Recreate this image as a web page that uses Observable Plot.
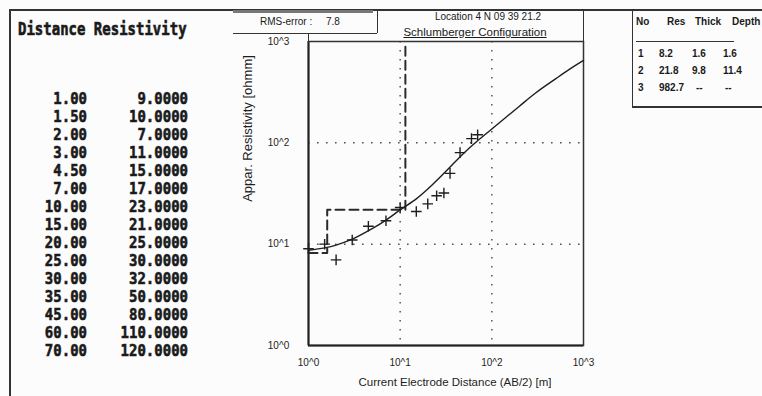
<!DOCTYPE html>
<html><head><meta charset="utf-8">
<script src="https://cdn.jsdelivr.net/npm/d3@7"></script>
<script src="https://cdn.jsdelivr.net/npm/@observablehq/plot@0.6"></script>
<style>
html,body{margin:0;padding:0;background:#fcfcfc;}
#wrap{position:relative;width:762px;height:396px;overflow:hidden;background:#fcfcfc;font-family:Arial,"Liberation Sans",sans-serif;color:#1a1a1a;}
#wrap svg{position:absolute;left:0;top:0;}
.abs{position:absolute;white-space:nowrap;line-height:12px;}
.mono{font-family:"DejaVu Sans Mono",monospace;font-weight:bold;font-size:14px;line-height:14px;-webkit-text-stroke:0.5px #1a1a1a;}
.ln{position:absolute;background:#333;}
</style></head><body><div id="wrap"></div>
<script>
// observed data (left table / plus markers)
const distance = [1, 1.5, 2, 3, 4.5, 7, 10, 15, 20, 25, 30, 35, 45, 60, 70];
const resistivity = [9, 10, 7, 11, 15, 17, 23, 21, 25, 30, 32, 50, 80, 110, 120];
// model curve
const curveAB = [1, 1.5, 2, 3, 5, 7, 10, 15, 20, 30, 50, 70, 100, 200, 300, 500, 700, 1000];
const curveRho = [8.7, 9.2, 9.8, 11.2, 14.3, 17.3, 21.8, 28, 35, 50, 80, 105, 137, 230, 310, 430, 530, 650];
// layer model
const layerNo = [1, 2, 3];
const layerRes = [8.2, 21.8, 982.7];
const layerThick = [1.6, 9.8, null];
const layerDepth = [1.6, 11.4, null];
// axes
const tickValues = [1, 10, 100, 1000];
const tickLabels = ["10^0", "10^1", "10^2", "10^3"];
const gridValues = [10, 100];
const xTitle = "Current Electrode Distance (AB/2) [m]";
const yTitle = "Appar. Resistivity [ohmm]";
const titleLines = ["Location 4 N 09 39 21.2", "Schlumberger Configuration"];
const rmsError = 7.8;
const tableHeader = ["No", "Res", "Thick", "Depth"];
const leftTitle = "Distance Resistivity";

const obs = distance.map((d, i) => ({x: d, y: resistivity[i]}));
const curve = curveAB.map((d, i) => ({x: d, y: curveRho[i]}));
const step = [];
let prevDepth = 1;
layerRes.forEach((r, i) => {
  step.push({x: prevDepth, y: r});
  if (layerDepth[i] != null) { step.push({x: layerDepth[i], y: r}); prevDepth = layerDepth[i]; }
});

const ink = "#1e1e1e";
const chart = Plot.plot({
  width: 762, height: 396,
  marginLeft: 308, marginRight: 179, marginTop: 41, marginBottom: 51,
  style: {background: "transparent", fontFamily: "Arial, 'Liberation Sans', sans-serif", color: ink, overflow: "visible"},
  x: {type: "log", domain: [1, 1000], axis: null},
  y: {type: "log", domain: [1, 1000], axis: null},
  marks: [
    Plot.ruleX(gridValues, {stroke: "#555", strokeWidth: 1.5, strokeDasharray: "1.6,7.4"}),
    Plot.ruleY(gridValues, {stroke: "#555", strokeWidth: 1.5, strokeDasharray: "1.6,7.4"}),
    Plot.frame({stroke: "#333", strokeWidth: 1.5}),
    Plot.ruleX([1], {stroke: "#222", strokeWidth: 2}),
    Plot.ruleY([1], {stroke: "#222", strokeWidth: 2}),
    Plot.line(step, {x: "x", y: "y", stroke: "#2a2a2a", strokeWidth: 2, strokeDasharray: "9,5"}),
    Plot.line(curve, {x: "x", y: "y", curve: "catmull-rom", stroke: ink, strokeWidth: 1.4}),
    Plot.dot(obs, {x: "x", y: "y", symbol: "plus", r: 3.5, stroke: ink, strokeWidth: 1.4}),
    Plot.text(tickValues, {x: d => d, text: (d, i) => tickLabels[i], frameAnchor: "bottom", textAnchor: "middle", lineAnchor: "middle", dy: 17, fontSize: 10, fill: ink}),
    Plot.text(tickValues, {y: d => d, text: (d, i) => tickLabels[i], frameAnchor: "left", textAnchor: "middle", lineAnchor: "middle", dx: -30, fontSize: 10, fill: ink}),
    Plot.text([xTitle], {text: d => d, frameAnchor: "bottom", textAnchor: "middle", lineAnchor: "middle", dx: 9, dy: 37, fontSize: 11.5, fill: ink}),
    Plot.text([yTitle], {text: d => d, frameAnchor: "left", textAnchor: "middle", lineAnchor: "middle", dx: -61, dy: -65, rotate: -90, fontSize: 13, fill: ink})
  ]
});
const wrap = d3.select("#wrap");
wrap.node().appendChild(chart);

function line(x, y, w, h, color) {
  wrap.append("div").attr("class", "ln")
    .style("left", x + "px").style("top", y + "px").style("width", w + "px").style("height", h + "px")
    .style("background", color || "#333");
}
function text(t, x, y, opts = {}) {
  const el = wrap.append("div").attr("class", "abs" + (opts.mono ? " mono" : "")).text(t)
    .style("top", (y - 7) + "px");
  if (opts.anchor === "end") el.style("right", (762 - x) + "px");
  else if (opts.anchor === "middle") el.style("left", (x - 200) + "px").style("width", "400px").style("text-align", "center");
  else el.style("left", x + "px");
  if (opts.size) el.style("font-size", opts.size + "px");
  if (opts.bold) el.style("font-weight", "bold");
  if (opts.underline) el.style("text-decoration", "underline");
  if (opts.scaleY) el.style("transform", `scaleY(${opts.scaleY})`).style("transform-origin", "center");
  return el;
}

// frame lines
line(9, 9, 753, 1.5);
line(9, 9, 1.5, 387);
line(233, 10, 140, 3, "#777");
line(233, 32.5, 144, 1.5);
line(376.5, 9, 1.5, 24);
line(582.5, 9, 1.5, 33);
line(307.5, 32.5, 1.5, 10);
line(631.5, 9, 1.5, 98);
line(631.5, 106, 131, 1.5);
line(636, 40.5, 98, 1.2);

// left panel
text(leftTitle, 18, 28, {mono: true, scaleY: 1.3});
distance.forEach((d, i) => {
  const y = 98 + 18 * i;
  text(d.toFixed(2), 87, y, {mono: true, anchor: "end", scaleY: 1.15});
  text(resistivity[i].toFixed(4), 188, y, {mono: true, anchor: "end", scaleY: 1.15});
});

// rms box
text("RMS-error :", 260, 23, {size: 10});
text(String(rmsError), 326, 23, {size: 10});
// title
text(titleLines[0], 488, 18, {size: 10, anchor: "middle"});
text(titleLines[1], 475, 33, {size: 11.5, anchor: "middle", underline: true});

// layer table
const hx = [636, 667, 695, 732];
tableHeader.forEach((h, i) => text(h, hx[i], 23, {size: 10, bold: true}));
const cx = [638, 659, 692, 723];
layerNo.forEach((n, i) => {
  const y = 55 + 17 * i;
  text(String(n), cx[0], y, {size: 10, bold: true});
  text(layerRes[i].toFixed(1), cx[1], y, {size: 10, bold: true});
  text(layerThick[i] == null ? "--" : layerThick[i].toFixed(1), cx[2] + (layerThick[i] == null ? 4 : 0), y, {size: 10, bold: true});
  text(layerDepth[i] == null ? "--" : layerDepth[i].toFixed(1), cx[3] + (layerDepth[i] == null ? 2 : 0), y, {size: 10, bold: true});
});
</script></body></html>
